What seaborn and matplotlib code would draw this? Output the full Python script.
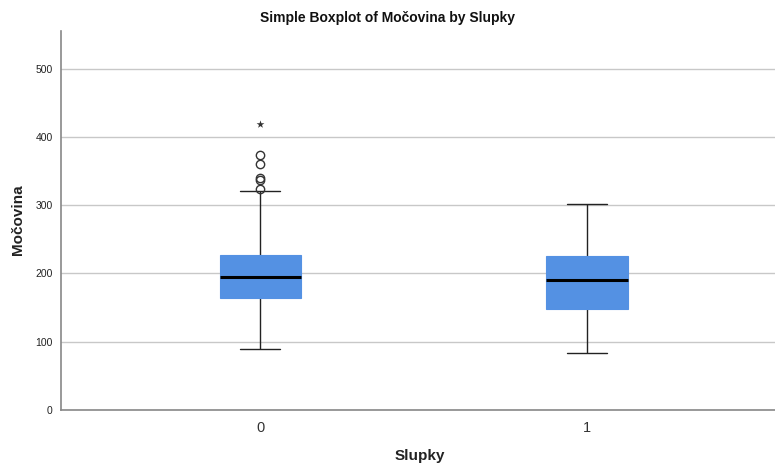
import matplotlib
matplotlib.use("Agg")
import matplotlib.pyplot as plt
import seaborn as sns
import pandas as pd

# Data
group_labels = ["0", "1"]
mocovina_0 = [90, 112, 128, 140, 148, 154, 160, 164, 170, 175, 180, 184, 188, 191,
              194.5, 198, 203, 208, 213, 218, 223, 227, 245, 321, 324, 337, 340, 360, 373]
mocovina_1 = [84, 105, 120, 132, 141, 148, 158, 166, 174, 183, 190.5, 197, 204, 211,
              218, 225, 238, 252, 266, 283, 301]
extreme_0 = [419]
y_ticks = [0, 100, 200, 300, 400, 500]

df = pd.DataFrame({
    "Slupky": [group_labels[0]] * len(mocovina_0) + [group_labels[1]] * len(mocovina_1),
    "Močovina": mocovina_0 + mocovina_1,
})
ext = pd.DataFrame({"Slupky": [group_labels[0]] * len(extreme_0), "Močovina": extreme_0})

sns.set_style("white")
plt.rcParams["font.family"] = ["Liberation Sans", "DejaVu Sans"]

fig = plt.figure(figsize=(7.75, 4.66), dpi=100)
ax = fig.add_axes([61 / 775, 1 - 410 / 466, 1 - 61 / 775, (410 - 31) / 466])

box_color = "#5491E3"
sns.boxplot(data=df, x="Slupky", y="Močovina", order=group_labels, ax=ax,
            width=0.248, color=box_color, linecolor="black", linewidth=1.0,
            whis=1.5, saturation=1, fliersize=6,
            boxprops=dict(edgecolor=box_color, linewidth=0.8, zorder=3),
            medianprops=dict(color="black", linewidth=2.2, zorder=4),
            whiskerprops=dict(color="#222222", linewidth=1.0),
            capprops=dict(color="#222222", linewidth=1.0),
            flierprops=dict(marker="o", markerfacecolor="none",
                            markeredgecolor="#333333", markeredgewidth=1.0, markersize=6))
sns.scatterplot(data=ext, x="Slupky", y="Močovina", ax=ax, marker="*",
                color="#333333", s=35, linewidth=0, zorder=5)

ax.set_xlim(-0.609, 1.575)
ax.set_ylim(0, 555)
ax.set_yticks(y_ticks)
ax.yaxis.grid(True, color="#c8c8c8", linewidth=1.0, zorder=0)
ax.set_axisbelow(True)
ax.tick_params(axis="y", length=0, labelsize=7.5, labelcolor="#222222", pad=6)
ax.tick_params(axis="x", length=0, labelsize=10.5, labelcolor="#333333", pad=8)

for s in ["top", "right"]:
    ax.spines[s].set_visible(False)
for s in ["left", "bottom"]:
    ax.spines[s].set_color("#888888")
    ax.spines[s].set_linewidth(1.2)

ax.set_xlabel("Slupky", fontsize=11, fontweight="bold", color="#222222", va="center")
ax.set_ylabel("Močovina", fontsize=11, fontweight="bold", color="#222222", va="center")
ax.xaxis.set_label_coords((420 - 61) / 714, (410 - 456) / 379)
ax.yaxis.set_label_coords((18 - 61) / 714, (410 - 220) / 379)
fig.text(0.5, 1 - 18 / 466, "Simple Boxplot of Močovina by Slupky", ha="center",
         va="center", fontsize=10, fontweight="bold", color="#111111")

fig.savefig("out.png", dpi=100, facecolor="white")
